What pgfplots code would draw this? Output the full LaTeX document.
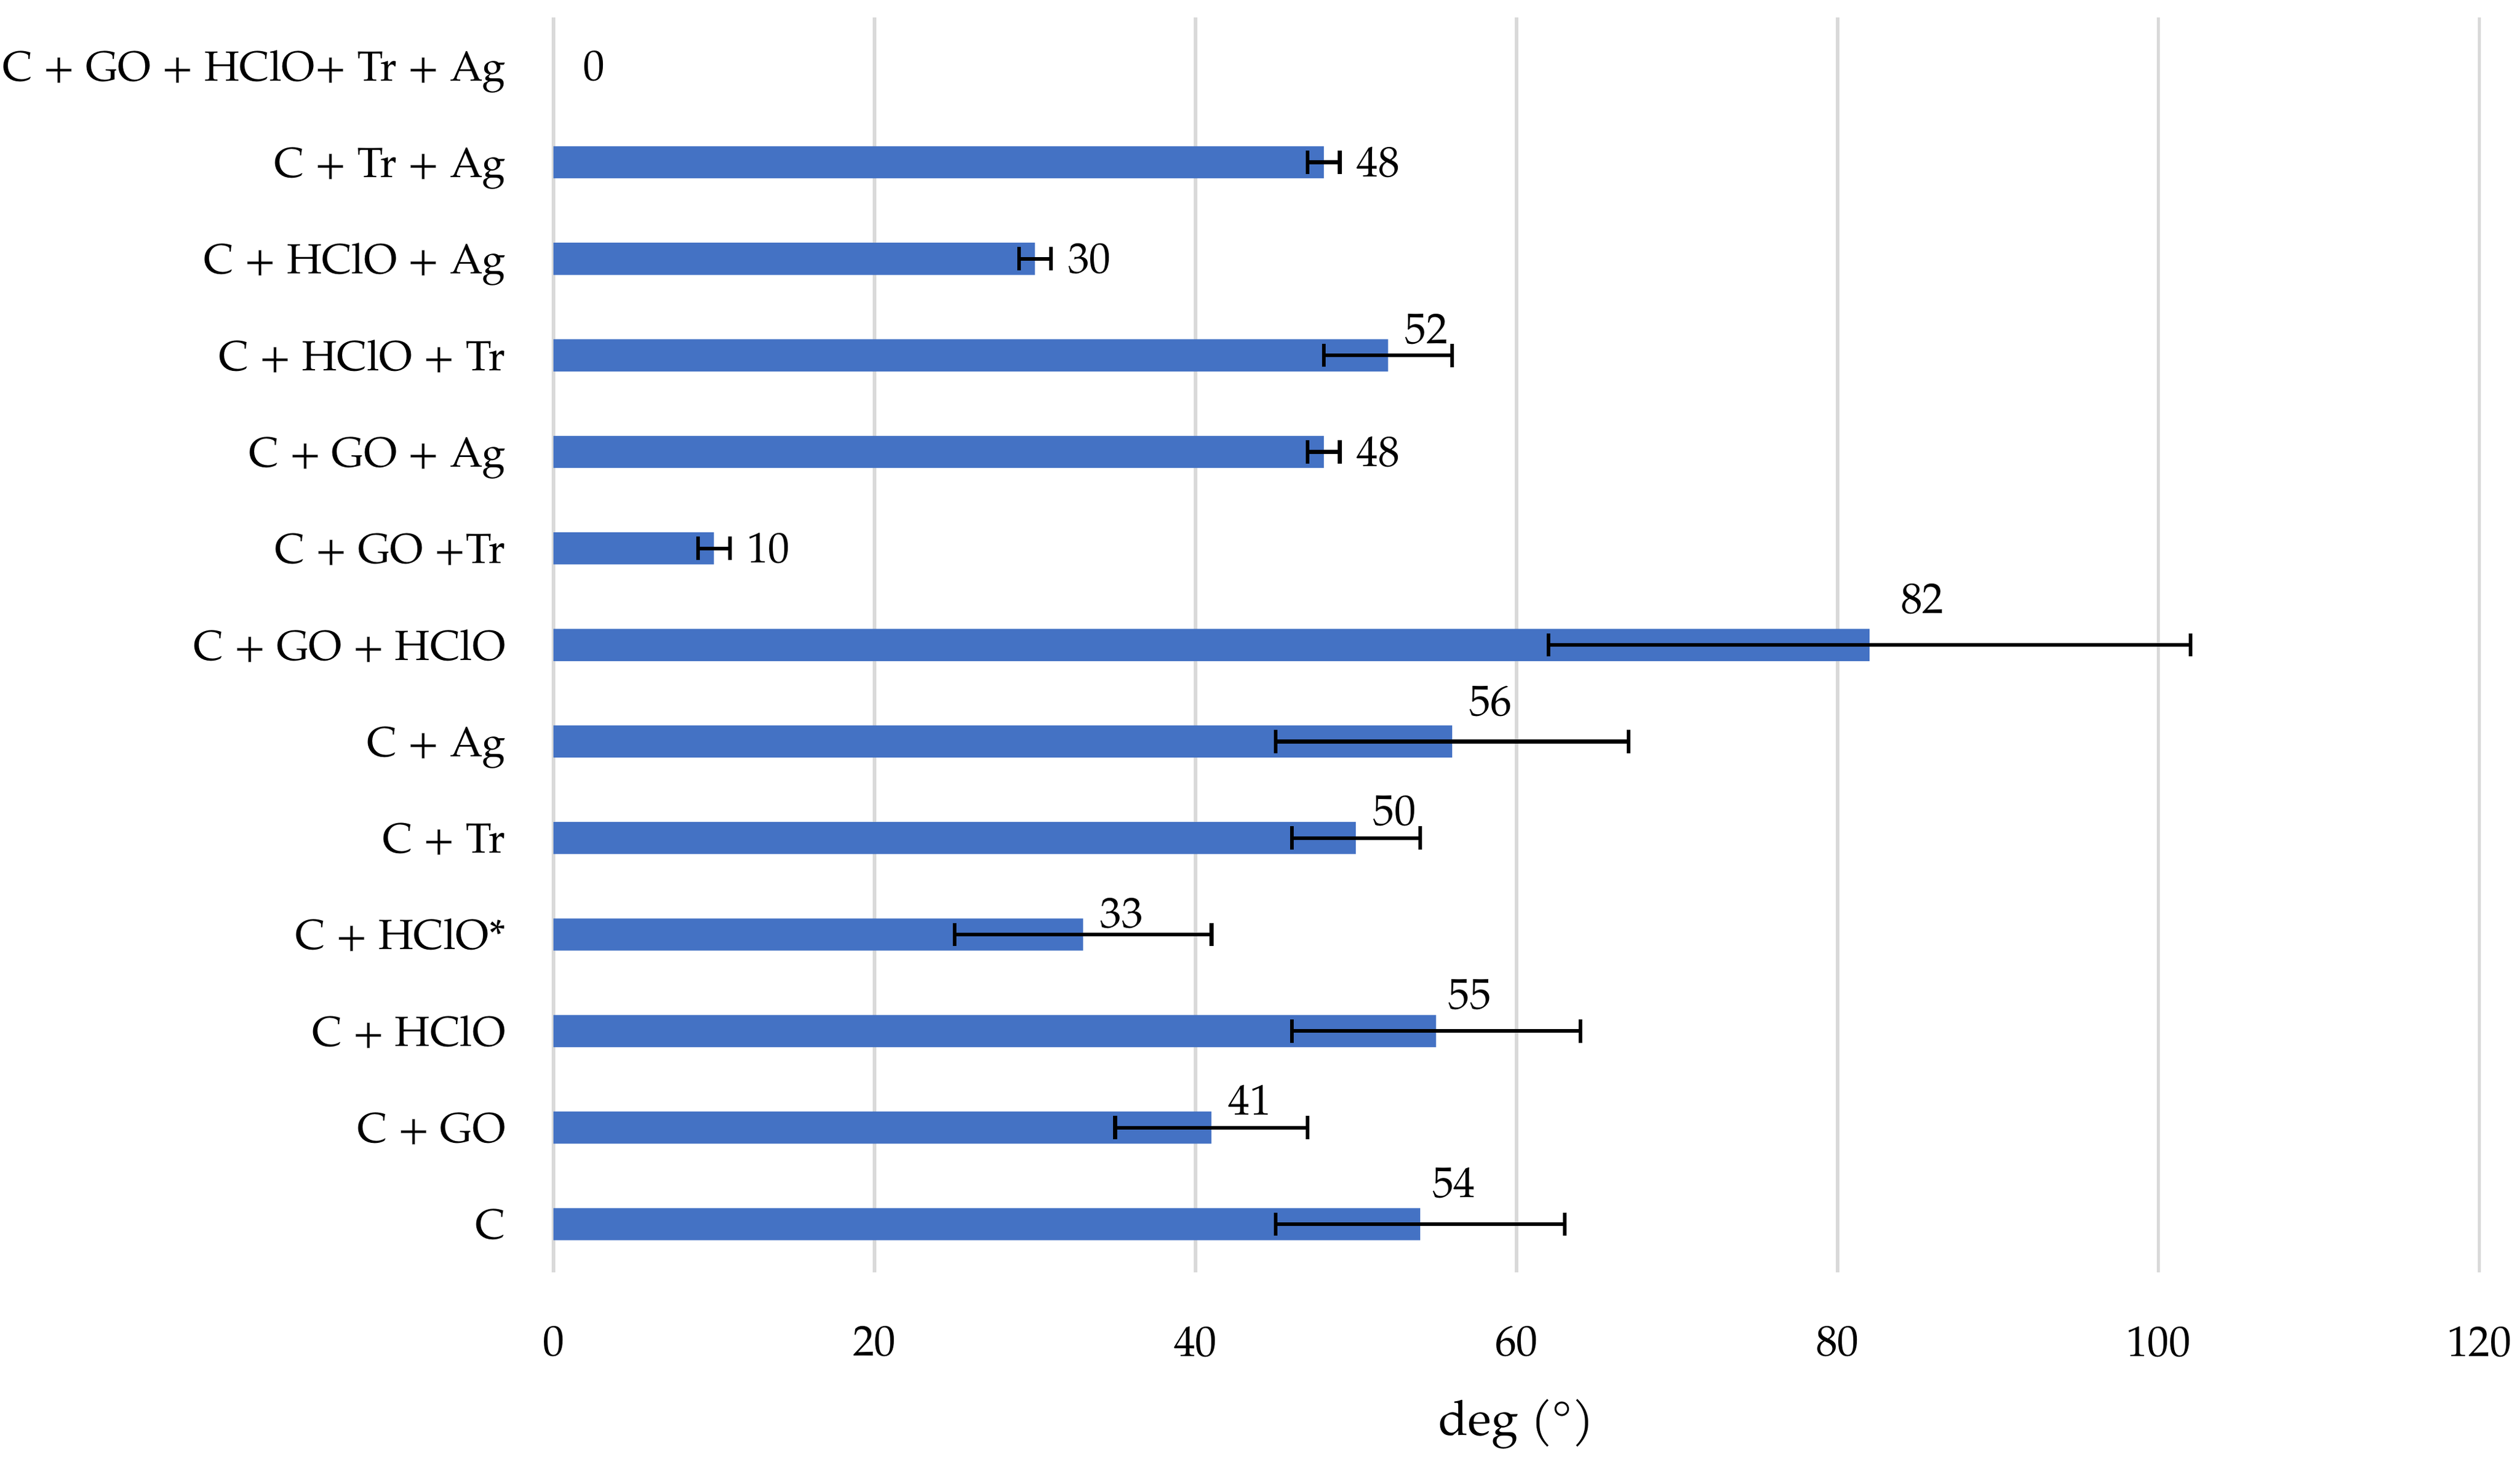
\documentclass[border=0pt]{standalone}
\usepackage{fontspec}
\setmainfont{TeX Gyre Pagella}
\usepackage{pgfplots}
\pgfplotsset{compat=1.18}
\usepackage{pgfplotstable}
\definecolor{barblue}{HTML}{4472C4}
\definecolor{gridgray}{HTML}{D9D9D9}

% contact angles (deg) with standard deviation, bottom to top
\pgfplotstableread{
y  x  err
0  54 9
1  41 6
2  55 9
3  33 8
4  50 4
5  56 11
6  82 20
7  10 1
8  48 1
9  52 4
10 30 1
11 48 1
12 0  0
}\angles

% data labels set beside the bar end
\pgfplotstableread{
lx   ly  lab
1.8  12  0
50.0 11  48
32.0 10  30
50.0 8   48
12.0 7   10
}\rightlabels

% data labels moved above the bar
\pgfplotstableread{
lx   ly   lab
54.7 0.28 54
42.0 1.13 41
55.7 2.23 55
34.0 3.07 33
51.0 4.13 50
57.0 5.27 56
83.9 6.33 82
53.0 9.12 52
}\toplabels

\begin{document}
\fontsize{9.2pt}{11pt}\selectfont
\begin{tikzpicture}
\begin{axis}[
    name=ax,
    scale only axis,
    width=14.52cm, height=9.464cm,
    xmin=0, xmax=120, ymin=-0.5, ymax=12.5,
    xtick={0,20,...,120},
    ytick={0,...,12},
    yticklabels={C, C + GO, C + HClO, C + HClO*, C + Tr, C + Ag, C + GO + HClO,
        C + GO +Tr, C + GO + Ag, C + HClO + Tr, C + HClO + Ag, C + Tr + Ag,
        C + GO + HClO+ Tr + Ag},
    axis line style={draw=none},
    major tick length=0pt,
    xmajorgrids,
    grid style={gridgray, line width=0.75pt},
    /pgf/number format/assume math mode=true,
    xticklabel style={anchor=north, inner sep=0pt, yshift=-0.40cm},
    yticklabel style={anchor=east, inner sep=0pt, xshift=-0.354cm,
        font=\fontsize{9.05pt}{11pt}\selectfont,
        text height=0.7em, text depth=0pt},
    xlabel={deg (°)},
    xlabel style={at={(axis description cs:0.5,0)}, anchor=north,
        inner sep=0pt, yshift=-0.95cm, font=\fontsize{10.4pt}{12pt}\selectfont},
    clip=false,
]
\addplot[xbar, bar width=0.333, fill=barblue, draw=none,
    error bars/.cd, x dir=both, x explicit,
    error bar style={draw=black, line width=0.8pt},
    error mark=|,
    error mark options={draw=black, line width=0.8pt, mark size=2.5pt}]
    table[x=x, y=y, x error=err, skip coords between index={12}{13}] {\angles};

\addplot[draw=none, mark=none, forget plot,
    nodes near coords, point meta=explicit symbolic,
    nodes near coords style={anchor=west, inner sep=0pt, text=black}]
    table[x=lx, y=ly, meta=lab] {\rightlabels};

\addplot[draw=none, mark=none, forget plot,
    nodes near coords, point meta=explicit symbolic,
    nodes near coords style={anchor=base west, inner sep=0pt, text=black}]
    table[x=lx, y=ly, meta=lab] {\toplabels};
\end{axis}
\path (ax.south west) ++(-4.173cm,-1.404cm) rectangle ++(19cm,11cm);
\end{tikzpicture}
\end{document}
